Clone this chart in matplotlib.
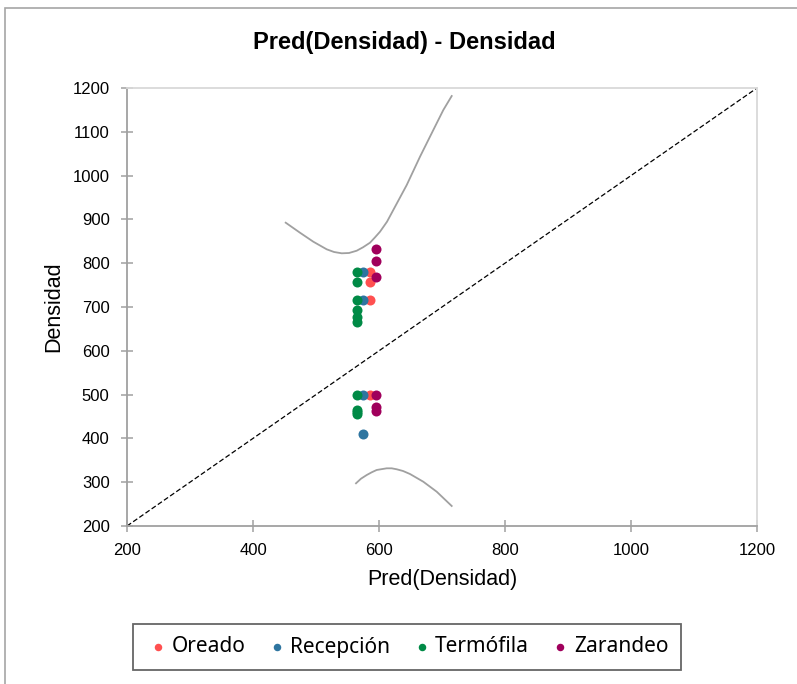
import matplotlib.pyplot as plt
from matplotlib.patches import Rectangle

# scatter data: Pred(Densidad) vs Densidad by group
oreado_x = [586, 586, 586, 586]
oreado_y = [781, 758, 715, 500]

recepcion_x = [575, 575, 575, 575]
recepcion_y = [781, 715, 500, 410]

termofila_x = [565, 565, 565, 565, 565, 565, 565, 565, 565, 565]
termofila_y = [781, 758, 715, 693, 677, 666, 500, 465, 460, 455]

zarandeo_x = [595, 595, 595, 595, 595, 595]
zarandeo_y = [832, 806, 769, 500, 472, 463]

# confidence curves
upper_x = [451.9, 474.6, 495.7, 517.0, 528.6, 540.8, 552.4, 564.6, 574.6, 585.7, 593.7,
           601.6, 612.7, 622.7, 644.0, 665.1, 686.2, 702.1, 715.4]
upper_y = [892.5, 869.6, 849.1, 831.7, 825.6, 822.6, 823.3, 828.5, 836.3, 846.8, 859.1,
           871.9, 894.7, 921.5, 978.5, 1043.2, 1104.1, 1149.8, 1181.7]
lower_x = [563.5, 571.4, 580.5, 588.4, 596.3, 612.2, 620.2, 628.1, 638.1, 649.2, 670.3, 691.6, 715.4]
lower_y = [297.5, 308.0, 316.4, 322.6, 327.9, 331.7, 331.7, 329.5, 325.6, 318.7, 301.1, 278.3, 245.7]

ticks = [200, 400, 600, 800, 1000, 1200]
yticks = [200, 300, 400, 500, 600, 700, 800, 900, 1000, 1100, 1200]

groups = [
    ("Oreado", oreado_x, oreado_y, "#FF5050"),
    ("Recepción", recepcion_x, recepcion_y, "#2E75A0"),
    ("Termófila", termofila_x, termofila_y, "#008A46"),
    ("Zarandeo", zarandeo_x, zarandeo_y, "#A0005C"),
]

fig = plt.figure(figsize=(7.97, 6.84), dpi=100)
# outer chart border
fig.patches.append(Rectangle((5 / 797, -0.01), 1.0, 1 - 8 / 684 + 0.01,
                             transform=fig.transFigure, fill=False,
                             edgecolor="#A6A6A6", linewidth=1.2))

ax = fig.add_axes([127 / 797, 158 / 684, 630 / 797, 438 / 684])

ax.plot(ticks, ticks, linestyle=(0, (4, 2)), color="black", linewidth=0.9, zorder=1)
ax.plot(upper_x, upper_y, color="#A0A0A0", linewidth=1.3, zorder=1)
ax.plot(lower_x, lower_y, color="#A0A0A0", linewidth=1.3, zorder=1)

for name, xs, ys, col in groups:
    ax.scatter(xs, ys, s=52, color=col, label=name, zorder=3, linewidths=0)

ax.set_xlim(200, 1200)
ax.set_ylim(200, 1200)
ax.set_xticks(ticks)
ax.set_yticks(yticks)

for side in ["left", "bottom"]:
    ax.spines[side].set_color("#A0A0A0")
    ax.spines[side].set_linewidth(1.3)
for side in ["top", "right"]:
    ax.spines[side].set_color("#D9D9D9")
    ax.spines[side].set_linewidth(1.3)

ax.tick_params(direction="inout", length=9, width=1.1, color="#A0A0A0",
               labelsize=12, pad=8)
for lab in ax.get_xticklabels() + ax.get_yticklabels():
    lab.set_fontfamily("Liberation Sans")

ax.set_xlabel("Pred(Densidad)", fontsize=15.5, family="Liberation Sans", labelpad=8)
ax.set_ylabel("Densidad", fontsize=15.5, family="Liberation Sans", labelpad=6)

fig.text(404 / 797, 1 - 42 / 684, "Pred(Densidad) - Densidad", ha="center", va="center",
         fontsize=17, fontweight="bold", family="Liberation Sans")

leg = fig.legend(loc="center", bbox_to_anchor=(407 / 797, 1 - 647 / 684), ncol=4,
                 frameon=True, fancybox=False, handletextpad=0.05, columnspacing=0.9,
                 handlelength=1.2, markerscale=0.75, borderpad=0.6,
                 prop={"family": "Noto Sans", "size": 15})
leg.get_frame().set_edgecolor("#404040")
leg.get_frame().set_linewidth(1.3)

fig.savefig("out.png", dpi=100)
